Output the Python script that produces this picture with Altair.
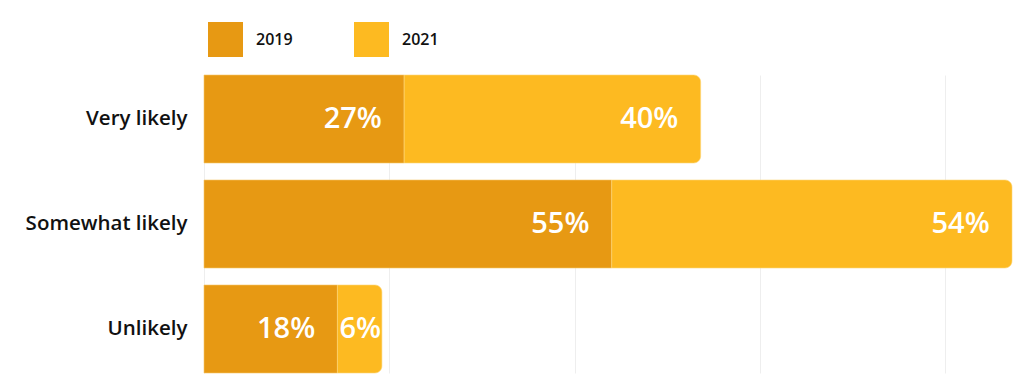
import altair as alt
import pandas as pd

categories = ["Very likely", "Somewhat likely", "Unlikely"]
years = ["2019", "2021"]
values_2019 = [27, 55, 18]
values_2021 = [40, 54, 6]

rows = []
for c, a, b in zip(categories, values_2019, values_2021):
    rows.append({"cat": c, "year": "2019", "start": 0, "end": a, "label": f"{a}%"})
    rows.append({"cat": c, "year": "2021", "start": a, "end": a + b, "label": f"{b}%"})
df = pd.DataFrame(rows)

FONT = "Open Sans"
colors = ["#E79913", "#FDBA21"]

x_scale = alt.Scale(domain=[0, 109], nice=False, zero=True)
y_scale = alt.Scale(domain=categories, paddingInner=0.162, paddingOuter=0)

base = alt.Chart(df)

x_axis = alt.Axis(values=[0, 25, 50, 75, 100], labels=False, ticks=False, domain=False,
                  grid=True, gridColor="#eeeeee", gridWidth=1, title=None)
y_axis = alt.Axis(title=None, ticks=False, domain=False, labelFont=FONT, labelFontSize=20.5,
                  labelFontWeight=600, labelColor="#111111", labelPadding=17, labelLimit=300)

color_enc = alt.Color("year:N", scale=alt.Scale(domain=years, range=colors),
                      legend=alt.Legend(title=None, orient="none", legendX=4, legendY=-53,
                                        direction="horizontal", symbolType="square",
                                        symbolSize=1225, symbolStrokeWidth=0,
                                        labelFont=FONT, labelFontSize=16, labelFontWeight=600,
                                        labelColor="#111111", labelOffset=13, columnPadding=61))

bars19 = base.transform_filter(alt.datum.year == "2019").mark_bar(stroke="#f6c768", strokeWidth=0.6).encode(
    x=alt.X("start:Q", scale=x_scale, axis=x_axis),
    x2="end:Q",
    y=alt.Y("cat:N", scale=y_scale, axis=y_axis, sort=categories),
    color=color_enc,
)
bars21 = base.transform_filter(alt.datum.year == "2021").mark_bar(
    cornerRadiusTopRight=7, cornerRadiusBottomRight=7, stroke="#fdd67a", strokeWidth=0.6
).encode(
    x=alt.X("start:Q", scale=x_scale, axis=x_axis),
    x2="end:Q",
    y=alt.Y("cat:N", scale=y_scale, axis=y_axis, sort=categories),
    color=color_enc,
)

labels = base.transform_calculate(
    lx="max(datum.end - 3.0, datum.start + 5.9)"
).mark_text(align="right", baseline="middle", font=FONT, fontSize=29, fontWeight=600,
            color="white").encode(
    x=alt.X("lx:Q", scale=x_scale),
    y=alt.Y("cat:N", scale=y_scale, sort=categories),
    text="label:N",
)

chart = alt.layer(bars19, bars21, labels).properties(
    width=808, height=298,
    autosize=alt.AutoSizeParams(type="none"),
    padding={"left": 196, "top": 67, "right": 4, "bottom": 4},
).configure_view(stroke=None)

chart.save("out.html", embed_options={"renderer": "svg", "actions": False})
